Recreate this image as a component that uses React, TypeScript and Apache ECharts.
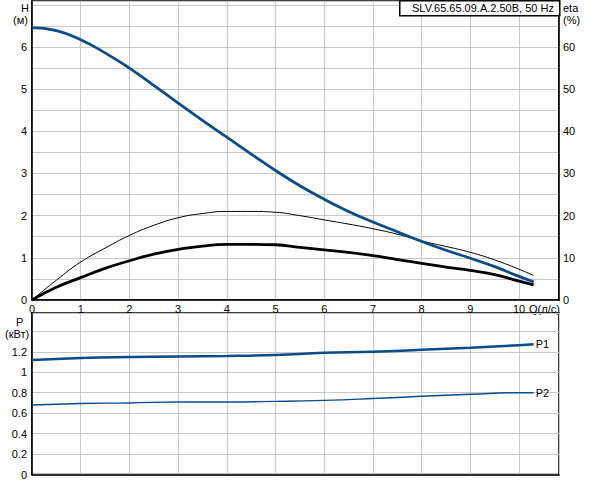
import { useEffect, useRef } from 'react'
import * as echarts from 'echarts'

// Q grid for the pump curves (л/с)
const Q = [0, 0.5, 1, 1.5, 2, 2.5, 3, 3.5, 4, 4.5, 5, 5.5, 6, 6.5, 7, 7.5, 8, 8.5, 9, 9.5, 10, 10.3]
const H = [6.46, 6.39, 6.17, 5.86, 5.5, 5.09, 4.67, 4.26, 3.86, 3.46, 3.07, 2.71, 2.39, 2.1, 1.85, 1.62, 1.39, 1.18, 0.99, 0.79, 0.56, 0.43]
const ETA = [0, 4.7, 9.0, 12.3, 15.3, 17.7, 19.5, 20.5, 21.0, 21.0, 20.8, 20.0, 19.0, 18.0, 16.9, 15.6, 14.0, 12.7, 11.3, 9.5, 7.3, 5.8]
const ETA_TOTAL = [0, 3.0, 5.3, 7.5, 9.3, 10.9, 12.0, 12.8, 13.2, 13.2, 13.1, 12.5, 11.9, 11.3, 10.5, 9.6, 8.7, 7.8, 7.0, 6.0, 4.5, 3.6]

const PQ = [0, 1, 2, 3, 4, 5, 6, 7, 8, 9, 10, 10.3]
const P1 = [1.12, 1.14, 1.15, 1.155, 1.16, 1.17, 1.19, 1.2, 1.22, 1.24, 1.265, 1.275]
const P2 = [0.68, 0.695, 0.7, 0.71, 0.71, 0.715, 0.725, 0.743, 0.765, 0.785, 0.8, 0.8]

const H_LABELS = [0, 1, 2, 3, 4, 5, 6]
const ETA_LABELS = [0, 10, 20, 30, 40, 50, 60]
const P_LABELS = [0, 0.2, 0.4, 0.6, 0.8, 1, 1.2]
const Q_LABELS = [0, 1, 2, 3, 4, 5, 6, 7, 8, 9, 10]

const TITLE = 'SLV.65.65.09.A.2.50B, 50 Hz'

const BLUE = '#0a4b8c'
const GRID_LINE = '#c8c8c8'
const FONT = 'Liberation Sans, Arial, sans-serif'

const pairs = (xs: number[], ys: number[]) => xs.map((x, i) => [x, ys[i]])
const only = (list: number[]) => (v: number) =>
  list.some((l) => Math.abs(l - v) < 1e-6) ? String(+v.toFixed(1)) : ''

export default function App() {
  const chartRef = useRef<HTMLDivElement | null>(null)

  useEffect(() => {
    if (!chartRef.current) return
    const chart = echarts.init(chartRef.current, undefined, { renderer: 'svg' })

    const label = { color: '#000', fontSize: 11, fontFamily: FONT }
    const split = { show: true, lineStyle: { color: GRID_LINE, width: 1 } }
    const edge = { show: true, lineStyle: { color: '#000', width: 1.5 } }

    chart.setOption({
      animation: false,
      grid: [
        { left: 32, top: 1, width: 527, height: 299, show: true, borderColor: '#000', borderWidth: 1.5 },
        { left: 32, top: 313, width: 527, height: 166, show: true, borderColor: '#000', borderWidth: 1.5 },
      ],
      xAxis: [
        {
          gridIndex: 0, type: 'value', min: 0, max: 10.82, interval: 1,
          axisLine: edge, axisTick: { show: false }, splitLine: split,
          axisLabel: { ...label, margin: 3, formatter: only(Q_LABELS), showMaxLabel: false },
        },
        {
          gridIndex: 1, type: 'value', min: 0, max: 10.82, interval: 1,
          axisLine: edge, axisTick: { show: false }, splitLine: split,
          axisLabel: { show: false },
        },
      ],
      yAxis: [
        {
          gridIndex: 0, type: 'value', min: 0, max: 7.09, interval: 0.5,
          axisLine: edge, axisTick: { show: false }, splitLine: split,
          axisLabel: { ...label, margin: 5, formatter: only(H_LABELS) },
        },
        {
          gridIndex: 0, type: 'value', position: 'right', min: 0, max: 70.9, interval: 10,
          axisLine: edge, axisTick: { show: false }, splitLine: { show: false },
          axisLabel: { ...label, margin: 4, formatter: only(ETA_LABELS) },
        },
        {
          gridIndex: 1, type: 'value', min: 0, max: 1.58, interval: 0.2,
          axisLine: edge, axisTick: { show: false }, splitLine: split,
          axisLabel: { ...label, margin: 5, formatter: only(P_LABELS) },
        },
      ],
      series: [
        {
          type: 'line', xAxisIndex: 0, yAxisIndex: 1, data: pairs(Q, ETA), smooth: true,
          showSymbol: false, lineStyle: { color: '#000', width: 1 },
        },
        {
          type: 'line', xAxisIndex: 0, yAxisIndex: 1, data: pairs(Q, ETA_TOTAL), smooth: true,
          showSymbol: false, lineStyle: { color: '#000', width: 2.8 },
        },
        {
          type: 'line', xAxisIndex: 0, yAxisIndex: 0, data: pairs(Q, H), smooth: true,
          showSymbol: false, lineStyle: { color: BLUE, width: 2.8 },
        },
        {
          type: 'line', xAxisIndex: 1, yAxisIndex: 2, data: pairs(PQ, P1), smooth: true,
          showSymbol: false, lineStyle: { color: BLUE, width: 2.5 },
          endLabel: { show: true, formatter: 'P1', distance: 2, ...label },
        },
        {
          type: 'line', xAxisIndex: 1, yAxisIndex: 2, data: pairs(PQ, P2), smooth: true,
          showSymbol: false, lineStyle: { color: BLUE, width: 1.4 },
          endLabel: { show: true, formatter: 'P2', distance: 2, ...label },
        },
      ],
      graphic: [
        { type: 'text', left: 21, top: 2, style: { text: 'H', fill: '#000', font: `11px ${FONT}` } },
        { type: 'text', left: 13, top: 14, style: { text: '(м)', fill: '#000', font: `11px ${FONT}` } },
        { type: 'text', left: 563, top: 2, style: { text: 'eta', fill: '#000', font: `11px ${FONT}` } },
        { type: 'text', left: 563, top: 14, style: { text: '(%)', fill: '#000', font: `11px ${FONT}` } },
        { type: 'text', left: 16, top: 316, style: { text: 'P', fill: '#000', font: `11px ${FONT}` } },
        { type: 'text', left: 5, top: 328, style: { text: '(кВт)', fill: '#000', font: `11px ${FONT}` } },
        { type: 'text', left: 529, top: 303, style: { text: 'Q(л/с)', fill: '#000', font: `11px ${FONT}` } },
        {
          type: 'rect', left: 399, top: 0, z: 10,
          shape: { width: 160, height: 15 },
          style: { fill: '#fff', stroke: '#000', lineWidth: 1.5 },
        },
        { type: 'text', left: 412, top: 2, z: 11, style: { text: TITLE, fill: '#000', font: `11px ${FONT}` } },
      ],
    })

    return () => chart.dispose()
  }, [])

  return (
    <div
      ref={chartRef}
      style={{ position: 'absolute', left: 0, top: 0, width: 592, height: 480, background: '#fff' }}
    />
  )
}
